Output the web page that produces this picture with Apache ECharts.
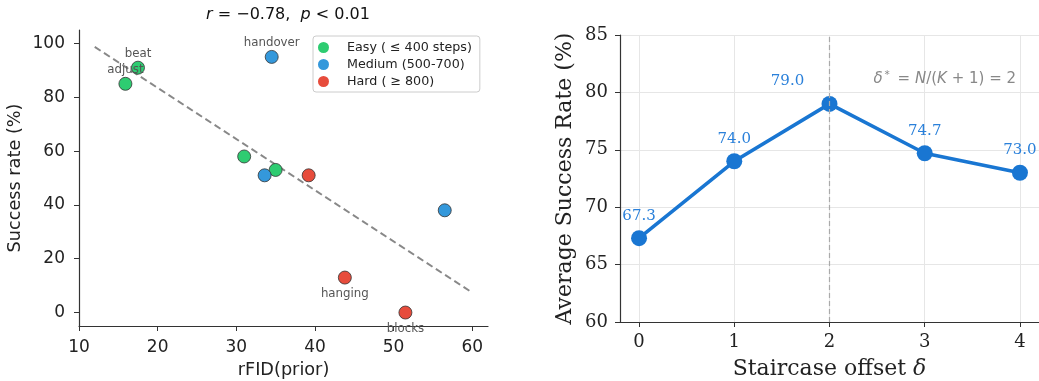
<!DOCTYPE html>
<html>
<head>
<meta charset="utf-8">
<script src="https://cdn.jsdelivr.net/npm/echarts@6/dist/echarts.min.js"></script>
<style>
  html, body { margin: 0; padding: 0; background: #fff; }
  #main { width: 1039px; height: 381px; }
</style>
</head>
<body>
<div id="main"></div>
<script>
// left panel: rFID vs success rate
var easyPts = [[15.9, 85], [17.5, 91], [31.0, 58], [35.0, 53]]
var easyNames = ['adjust', 'beat', '', '']
var mediumPts = [[34.5, 95], [33.6, 51], [56.5, 38]]
var mediumNames = ['handover', '', '']
var hardPts = [[39.2, 51], [43.8, 13], [51.5, 0]]
var hardNames = ['', 'hanging', 'blocks']
var trendX = [12, 60]
var trendY = [98.7, 7.4]
var leftXTicks = [10, 20, 30, 40, 50, 60]
var leftYTicks = [0, 20, 40, 60, 80, 100]

// right panel: staircase offset
var offsets = [0, 1, 2, 3, 4]
var avgRate = [67.3, 74.0, 79.0, 74.7, 73.0]
var bestOffset = 2

var sans = 'DejaVu Sans'
var serif = 'DejaVu Serif'
var blue = '#1976D2'

var chart = echarts.init(document.getElementById('main'), null, { renderer: 'canvas' })

function withNames(pts, names) {
  return pts.map(function (p, i) {
    var item = { value: p, name: names[i] }
    if (names[i] === 'hanging' || names[i] === 'blocks') {
      item.label = { position: 'bottom', distance: 3 }
    }
    return item
  })
}

function scatterSeries(name, pts, names, color) {
  return {
    name: name,
    type: 'scatter',
    xAxisIndex: 0,
    yAxisIndex: 0,
    symbolSize: 13,
    z: 3,
    itemStyle: { color: color, borderColor: '#333', borderWidth: 0.8, opacity: 1 },
    label: {
      show: true,
      position: 'top',
      distance: 1,
      formatter: '{b}',
      color: '#555',
      fontFamily: sans,
      fontSize: 11.8,
    },
    emphasis: { disabled: true },
    data: withNames(pts, names),
  }
}

var axisLineStyle = { show: true, onZero: false, lineStyle: { color: '#333', width: 1.2 } }

var option = {
  backgroundColor: '#fff',
  animation: false,
  title: {
    text: '{i|r} = −0.78,  {i|p} < 0.01',
    left: 283,
    top: 2,
    textAlign: 'center',
    textStyle: {
      fontFamily: sans,
      fontSize: 16,
      fontWeight: 'normal',
      color: '#111',
      rich: {
        i: { fontFamily: sans, fontSize: 16, fontStyle: 'italic', color: '#111' },
      },
    },
  },
  legend: {
    orient: 'vertical',
    left: 313,
    top: 36,
    padding: [5, 8, 4, 5],
    itemGap: 4,
    itemWidth: 25,
    itemHeight: 11,
    icon: 'circle',
    backgroundColor: 'rgba(255,255,255,0.8)',
    borderColor: '#ccc',
    borderWidth: 1,
    borderRadius: 3,
    itemStyle: { borderWidth: 0 },
    textStyle: { fontFamily: sans, fontSize: 12.7, color: '#222', padding: [0, 0, 0, 6] },
    data: ['Easy ( ≤ 400 steps)', 'Medium (500-700)', 'Hard ( ≥ 800)'],
  },
  grid: [
    { left: 79, top: 30, width: 409, height: 296, outerBoundsMode: 'none', containLabel: false },
    { left: 620, top: 35, width: 419, height: 287, outerBoundsMode: 'none', containLabel: false },
  ],
  xAxis: [
    {
      type: 'value',
      gridIndex: 0,
      min: 10,
      max: 62,
      name: 'rFID(prior)',
      nameLocation: 'middle',
      nameGap: 35,
      nameTextStyle: { fontFamily: sans, fontSize: 17.7, color: '#222' },
      axisLine: axisLineStyle,
      axisTick: { show: true, length: 5, lineStyle: { color: '#333' }, customValues: leftXTicks },
      axisLabel: { fontFamily: sans, fontSize: 17, color: '#222', margin: 13, customValues: leftXTicks },
      splitLine: { show: false },
    },
    {
      type: 'value',
      gridIndex: 1,
      min: -0.2,
      max: 4.2,
      name: 'Staircase offset {i|δ}',
      nameLocation: 'middle',
      nameGap: 36,
      nameTextStyle: {
        fontFamily: serif, fontSize: 22, color: '#222',
        rich: { i: { fontFamily: serif, fontSize: 22, fontStyle: 'italic', color: '#222' } },
      },
      axisLine: axisLineStyle,
      axisTick: { show: true, length: 5, lineStyle: { color: '#333' }, customValues: offsets },
      axisLabel: { fontFamily: serif, fontSize: 18, color: '#222', margin: 11, customValues: offsets },
      splitLine: { show: true, lineStyle: { color: '#e6e6e6', width: 1 } },
    },
  ],
  yAxis: [
    {
      type: 'value',
      gridIndex: 0,
      min: -5,
      max: 105,
      name: 'Success rate (%)',
      nameLocation: 'middle',
      nameGap: 55,
      nameTextStyle: { fontFamily: sans, fontSize: 17.7, color: '#222' },
      axisLine: axisLineStyle,
      axisTick: { show: true, length: 5, lineStyle: { color: '#333' }, customValues: leftYTicks },
      axisLabel: { fontFamily: sans, fontSize: 17, color: '#222', margin: 14, customValues: leftYTicks },
      splitLine: { show: false },
    },
    {
      type: 'value',
      gridIndex: 1,
      min: 60,
      max: 85,
      interval: 5,
      name: 'Average Success Rate (%)',
      nameLocation: 'middle',
      nameGap: 44,
      nameTextStyle: { fontFamily: serif, fontSize: 22, color: '#222' },
      axisLine: axisLineStyle,
      axisTick: { show: true, length: 5, lineStyle: { color: '#333' } },
      axisLabel: { fontFamily: serif, fontSize: 18, color: '#222', margin: 12 },
      splitLine: { show: true, lineStyle: { color: '#e6e6e6', width: 1 } },
    },
  ],
  series: [
    {
      name: 'trend',
      type: 'line',
      xAxisIndex: 0,
      yAxisIndex: 0,
      symbol: 'none',
      z: 2,
      lineStyle: { color: '#888', width: 2, type: [7, 4] },
      data: trendX.map(function (x, i) { return [x, trendY[i]] }),
      silent: true,
    },
    scatterSeries('Easy ( ≤ 400 steps)', easyPts, easyNames, '#2ECC71'),
    scatterSeries('Medium (500-700)', mediumPts, mediumNames, '#3498DB'),
    scatterSeries('Hard ( ≥ 800)', hardPts, hardNames, '#E74C3C'),
    {
      name: 'avg',
      type: 'line',
      xAxisIndex: 1,
      yAxisIndex: 1,
      symbol: 'circle',
      symbolSize: 16,
      z: 3,
      lineStyle: { color: blue, width: 3.6 },
      itemStyle: { color: blue },
      label: {
        show: true,
        position: 'top',
        distance: 7,
        color: '#2A80DA',
        fontFamily: serif,
        fontSize: 15,
        formatter: function (p) { return p.value[1].toFixed(1) },
      },
      data: offsets.map(function (x, i) {
        var item = { value: [x, avgRate[i]] }
        if (x === bestOffset) item.label = { offset: [-42, 0] }
        return item
      }),
      markLine: {
        silent: true,
        symbol: 'none',
        label: { show: false },
        lineStyle: { color: '#aaa', width: 1.2, type: [5, 3] },
        data: [{ xAxis: bestOffset }],
      },
      markPoint: {
        silent: true,
        symbol: 'circle',
        symbolSize: 0,
        label: {
          show: true,
          position: 'inside',
          formatter: '{i|δ}{s|*} = {i|N}/({i|K} + 1) = 2',
          color: '#888',
          fontFamily: sans,
          fontSize: 15,
          rich: {
            i: { fontFamily: sans, fontSize: 15, fontStyle: 'italic', color: '#888' },
            s: { fontFamily: sans, fontSize: 10.5, color: '#888', verticalAlign: 'top', padding: [0, 3, 7, 2] },
          },
        },
        data: [{ coord: [3.21, 81.2] }],
      },
      emphasis: { disabled: true },
    },
  ],
}

chart.setOption(option)
</script>
</body>
</html>
